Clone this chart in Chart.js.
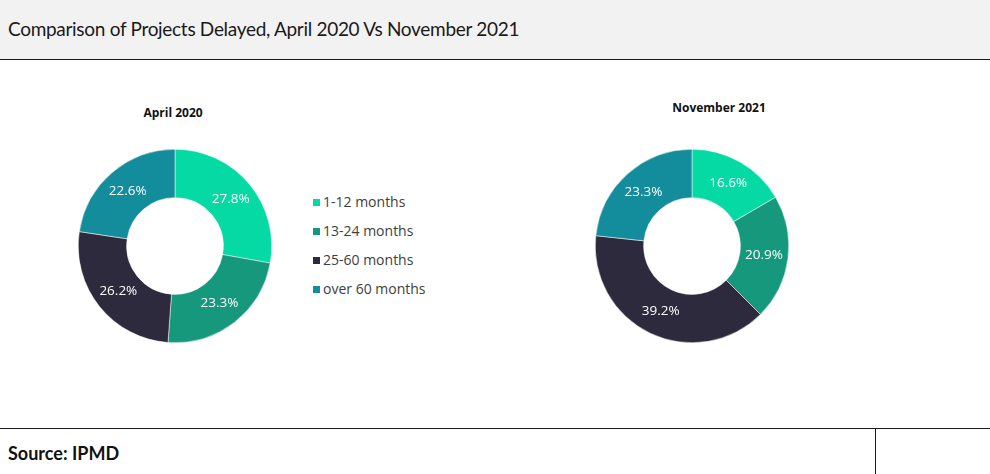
<!DOCTYPE html>
<html>
<head>
<meta charset="utf-8">
<script src="https://cdn.jsdelivr.net/npm/chart.js@4.4.1/dist/chart.umd.min.js"></script>
<style>
  html, body { margin:0; padding:0; background:#fff; }
  body { width:990px; height:474px; position:relative; overflow:hidden; font-family:"Open Sans", sans-serif; }
  #header { position:absolute; left:0; top:0; width:990px; height:59px; background:#f2f2f2; border-bottom:1px solid #1a1a1a; }
  #title { position:absolute; left:8px; top:17px; font-family:Lato, sans-serif; font-size:19px; color:#1a1a1a; white-space:nowrap; letter-spacing:-0.3px; }
  .sub { position:absolute; font-family:"Open Sans", sans-serif; font-weight:bold; font-size:12px; color:#111; white-space:nowrap; transform:translateX(-50%); }
  .cv { position:absolute; }
  #legend { position:absolute; left:313px; top:192px; font-family:"Open Sans", sans-serif; font-size:14px; color:#404040; }
  #legend .item { height:29px; line-height:19px; white-space:nowrap; }
  #legend .sw { display:inline-block; width:7px; height:7px; margin-right:3px; vertical-align:1px; }
  #footer { position:absolute; left:0; top:428px; width:990px; height:46px; border-top:1px solid #1a1a1a; }
  #vline { position:absolute; left:875px; top:0; width:1px; height:46px; background:#1a1a1a; }
  #source { position:absolute; left:8px; top:13px; font-family:Lato, sans-serif; font-weight:bold; font-size:18px; color:#111; }
</style>
</head>
<body>
<div id="header"><div id="title">Comparison of Projects Delayed, April 2020 Vs November 2021</div></div>
<div class="sub" style="left:173px; top:104px;">April 2020</div>
<div class="sub" style="left:719px; top:99px;">November 2021</div>
<canvas id="c1" class="cv" width="194" height="194" style="left:78px; top:149px; width:194px; height:194px;"></canvas>
<canvas id="c2" class="cv" width="194" height="194" style="left:595px; top:149px; width:194px; height:194px;"></canvas>
<div id="legend"></div>
<div id="footer"><div id="source">Source: IPMD</div><div id="vline"></div></div>
<script>
const categories = ["1-12 months", "13-24 months", "25-60 months", "over 60 months"];
const april2020 = [27.8, 23.3, 26.2, 22.6];
const november2021 = [16.6, 20.9, 39.2, 23.3];
const colors = ["#05DAA4", "#15987B", "#2D2A3D", "#138C9C"];

const sliceLabels = {
  id: 'sliceLabels',
  afterDatasetsDraw(chart) {
    const ctx = chart.ctx;
    const meta = chart.getDatasetMeta(0);
    const data = chart.data.datasets[0].data;
    ctx.save();
    ctx.fillStyle = '#ffffff';
    ctx.font = '13.5px "Open Sans", sans-serif';
    ctx.textAlign = 'center';
    ctx.textBaseline = 'middle';
    meta.data.forEach((arc, i) => {
      const p = arc.tooltipPosition();
      ctx.fillText(data[i].toFixed(1) + '%', p.x, p.y);
    });
    ctx.restore();
  }
};

function makeChart(id, values) {
  return new Chart(document.getElementById(id), {
    type: 'doughnut',
    data: {
      labels: categories,
      datasets: [{
        data: values,
        backgroundColor: colors,
        borderColor: '#ffffff',
        borderWidth: 0.5
      }]
    },
    options: {
      responsive: false,
      animation: false,
      cutout: '50%',
      layout: { padding: 0 },
      plugins: { legend: { display: false }, tooltip: { enabled: false }, title: { display: false } }
    },
    plugins: [sliceLabels]
  });
}
makeChart('c1', april2020);
makeChart('c2', november2021);

const legend = document.getElementById('legend');
categories.forEach((c, i) => {
  const d = document.createElement('div');
  d.className = 'item';
  d.innerHTML = '<span class="sw" style="background:' + colors[i] + '"></span>' + c;
  legend.appendChild(d);
});
</script>
</body>
</html>
